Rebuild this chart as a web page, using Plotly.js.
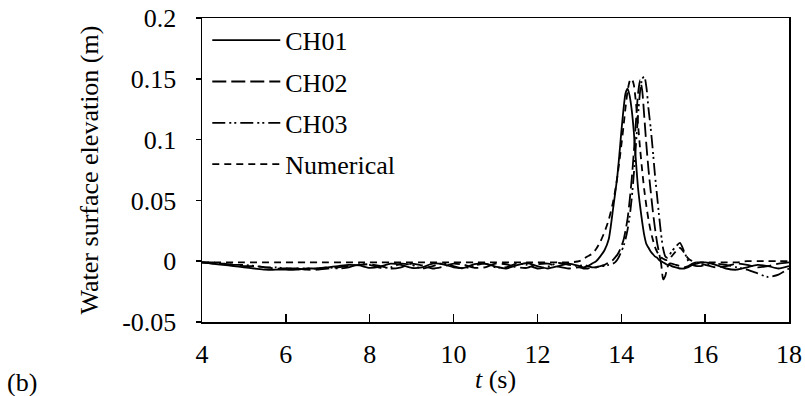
<!DOCTYPE html>
<html>
<head>
<meta charset="utf-8">
<script src="https://cdn.plot.ly/plotly-3.0.1.min.js"></script>
<style>
  html, body { margin: 0; padding: 0; background: #fff; font-family: 'Liberation Serif', serif; }
  #chart { width: 805px; height: 396px; }
</style>
</head>
<body>
<div id="chart"></div>
<script>
// Sampling times (s): coarse in the quiet part, finer around the wave crest
const time = [
  4, 4.25, 4.5, 4.75, 5, 5.25, 5.5, 5.75, 6, 6.25, 6.5, 6.75,
  7, 7.25, 7.5, 7.75, 8, 8.25, 8.5, 8.75, 9, 9.25, 9.5, 9.75,
  10, 10.25, 10.5, 10.75, 11, 11.25, 11.5, 11.75, 12, 12.25, 12.5, 12.75,
  13, 13.1, 13.2, 13.3, 13.4, 13.5, 13.6, 13.7,
  13.8, 13.85, 13.9, 13.95, 14, 14.05, 14.1, 14.15, 14.2, 14.25,
  14.3, 14.35, 14.4, 14.45, 14.5, 14.55, 14.6, 14.65, 14.7, 14.75,
  14.8, 14.85, 14.9, 14.95, 15, 15.05, 15.1, 15.15, 15.2,
  15.3, 15.4, 15.5, 15.6, 15.7, 15.8, 15.9,
  16, 16.25, 16.5, 16.75, 17, 17.25, 17.5, 17.75, 18
];

// Gauge CH01 (m)
const ch01 = [
  -0.001, -0.002, -0.003, -0.004, -0.005, -0.006, -0.007, -0.007, -0.007, -0.007, -0.006, -0.006,
  -0.005, -0.004, -0.003, -0.0035, -0.0055, -0.0045, -0.002, -0.003, -0.0055, -0.005, -0.002, -0.0025,
  -0.005, -0.0055, -0.0025, -0.002, -0.0045, -0.006, -0.0035, -0.0015, -0.004, -0.006, -0.004, -0.002,
  -0.004, -0.005, -0.004, -0.002, 0.000, 0.004, 0.009, 0.018,
  0.042, 0.055, 0.068, 0.086, 0.106, 0.124, 0.138, 0.142, 0.136, 0.124,
  0.106, 0.082, 0.060, 0.045, 0.032, 0.021, 0.014, 0.011, 0.008, 0.006,
  0.004, 0.003, 0.001, 0.000, -0.001, -0.002, -0.003, -0.003, -0.004,
  -0.005, -0.006, -0.006, -0.005, -0.003, -0.002, -0.001,
  -0.001, -0.003, -0.006, -0.007, -0.005, -0.003, -0.004, -0.006, -0.004
];

// Gauge CH02 (m)
const ch02 = [
  -0.001, -0.002, -0.002, -0.003, -0.004, -0.004, -0.005, -0.006, -0.006, -0.006, -0.007, -0.007,
  -0.006, -0.005, -0.004, -0.003, -0.0025, -0.004, -0.006, -0.005, -0.002, -0.0035, -0.006, -0.0045,
  -0.002, -0.003, -0.0055, -0.005, -0.002, -0.0025, -0.005, -0.0055, -0.0025, -0.002, -0.0045, -0.006,
  -0.005, -0.006, -0.006, -0.005, -0.005, -0.004, -0.003, -0.001,
  0.001, 0.003, 0.005, 0.008, 0.012, 0.017, 0.025, 0.035, 0.050, 0.068,
  0.090, 0.115, 0.138, 0.149, 0.140, 0.118, 0.095, 0.075, 0.058, 0.042,
  0.028, 0.016, 0.007, -0.002, -0.015, -0.012, -0.005, -0.002, -0.002,
  -0.003, -0.004, -0.005, -0.004, -0.002, -0.001, -0.002,
  -0.003, -0.005, -0.004, -0.002, -0.003, -0.005, -0.004, -0.002, -0.001
];

// Gauge CH03 (m)
const ch03 = [
  -0.001, -0.001, -0.002, -0.003, -0.003, -0.004, -0.005, -0.005, -0.006, -0.006, -0.006, -0.006,
  -0.005, -0.006, -0.005, -0.0025, -0.003, -0.0055, -0.005, -0.002, -0.003, -0.006, -0.004, -0.0015,
  -0.004, -0.006, -0.0035, -0.002, -0.005, -0.005, -0.002, -0.003, -0.006, -0.0045, -0.0015, -0.003,
  -0.004, -0.003, -0.004, -0.005, -0.005, -0.004, -0.004, -0.003,
  -0.002, -0.001, 0.001, 0.004, 0.008, 0.012, 0.018, 0.026, 0.037, 0.052,
  0.072, 0.096, 0.120, 0.140, 0.150, 0.152, 0.143, 0.125, 0.110, 0.092,
  0.072, 0.055, 0.038, 0.022, 0.010, 0.004, 0.003, 0.005, 0.008,
  0.012, 0.015, 0.008, 0.000, -0.003, -0.004, -0.004,
  -0.003, -0.002, -0.003, -0.005, -0.007, -0.010, -0.013, -0.011, -0.006
];

// Numerical model (m)
const numerical = [
  -0.001, -0.001, -0.001, -0.001, -0.001, -0.001, -0.001, -0.001, -0.001, -0.001, -0.001, -0.001,
  -0.001, -0.001, -0.001, -0.001, -0.001, -0.001, -0.001, -0.001, -0.001, -0.001, -0.001, -0.001,
  -0.001, -0.001, -0.001, -0.001, -0.001, -0.001, -0.001, -0.001, -0.001, -0.001, -0.001, -0.001,
  0.000, 0.002, 0.004, 0.006, 0.010, 0.016, 0.024, 0.034,
  0.048, 0.057, 0.068, 0.081, 0.095, 0.110, 0.126, 0.140, 0.148, 0.150,
  0.145, 0.130, 0.112, 0.092, 0.074, 0.058, 0.045, 0.034, 0.025, 0.018,
  0.012, 0.008, 0.005, 0.003, 0.002, 0.001, 0.001, 0.002, 0.004,
  0.008, 0.011, 0.007, 0.002, 0.000, -0.001, -0.001,
  -0.001, -0.001, -0.001, -0.001, 0.000, 0.000, 0.000, 0.000, 0.000
];

const seriesNames = ['CH01', 'CH02', 'CH03', 'Numerical'];
const yTickValues = [-0.05, 0, 0.05, 0.1, 0.15, 0.2];
const yTickLabels = ['-0.05', '0', '0.05', '0.1', '0.15', '0.2'];
const xTickValues = [4, 6, 8, 10, 12, 14, 16, 18];

const FONT = 'Liberation Serif';
const dashes = ['solid', '14px,5px', '13px,4px,2px,3px,2px,4px', '7px,5px'];
const values = [ch01, ch02, ch03, numerical];

function buildTraces() {
  return values.map((v, i) => ({
    x: time,
    y: v,
    name: seriesNames[i],
    legendgroup: 'g' + i,
    mode: 'lines',
    line: { color: '#000', width: 1.8, dash: dashes[i], shape: 'spline', smoothing: 0.6 },
    hoverinfo: 'skip'
  }));
}

function buildLayout() {
  const f = { family: FONT, size: 26, color: '#000' };
  return {
    width: 805,
    height: 396,
    margin: { l: 202, r: 16, t: 18, b: 74 },
    paper_bgcolor: '#fff',
    plot_bgcolor: '#fff',
    font: f,
    showlegend: true,
    legend: {
      x: 0.009, y: 1.004, xanchor: 'left', yanchor: 'top',
      bgcolor: 'rgba(0,0,0,0)',
      font: f,
      traceorder: 'grouped',
      tracegroupgap: 4.5,
      itemwidth: 68
    },
    xaxis: {
      range: [4, 18],
      tickvals: xTickValues,
      ticks: 'inside', ticklen: 8, tickwidth: 1.5, tickcolor: '#000',
      showline: true, linecolor: '#000', linewidth: 1.5, mirror: true,
      showgrid: false, zeroline: false,
      tickfont: f,
      ticklabelstandoff: 8,
      title: { text: '<i>t</i> (s)', font: f, standoff: 2 }
    },
    yaxis: {
      range: [-0.05, 0.2],
      tickvals: yTickValues,
      ticktext: yTickLabels,
      ticks: 'outside', ticklen: 5, tickwidth: 1.5, tickcolor: '#000',
      showline: true, linecolor: '#000', linewidth: 1.5, mirror: true,
      showgrid: false, zeroline: false,
      tickfont: f,
      ticklabelstandoff: 14,
      title: { text: 'Water surface elevation (m)', font: f, standoff: 16 }
    },
    annotations: [{
      text: '(b)', xref: 'paper', yref: 'paper',
      x: -0.335, y: -0.2, xanchor: 'left', yanchor: 'middle',
      showarrow: false, font: f
    }]
  };
}

function draw() {
  Plotly.newPlot('chart', buildTraces(), buildLayout(), { staticPlot: true, displayModeBar: false });
}

draw();
// redraw once the serif face is ready so text metrics use it
if (document.fonts && document.fonts.load) {
  document.fonts.load('26px "Liberation Serif"').then(draw, draw);
}
</script>
</body>
</html>
